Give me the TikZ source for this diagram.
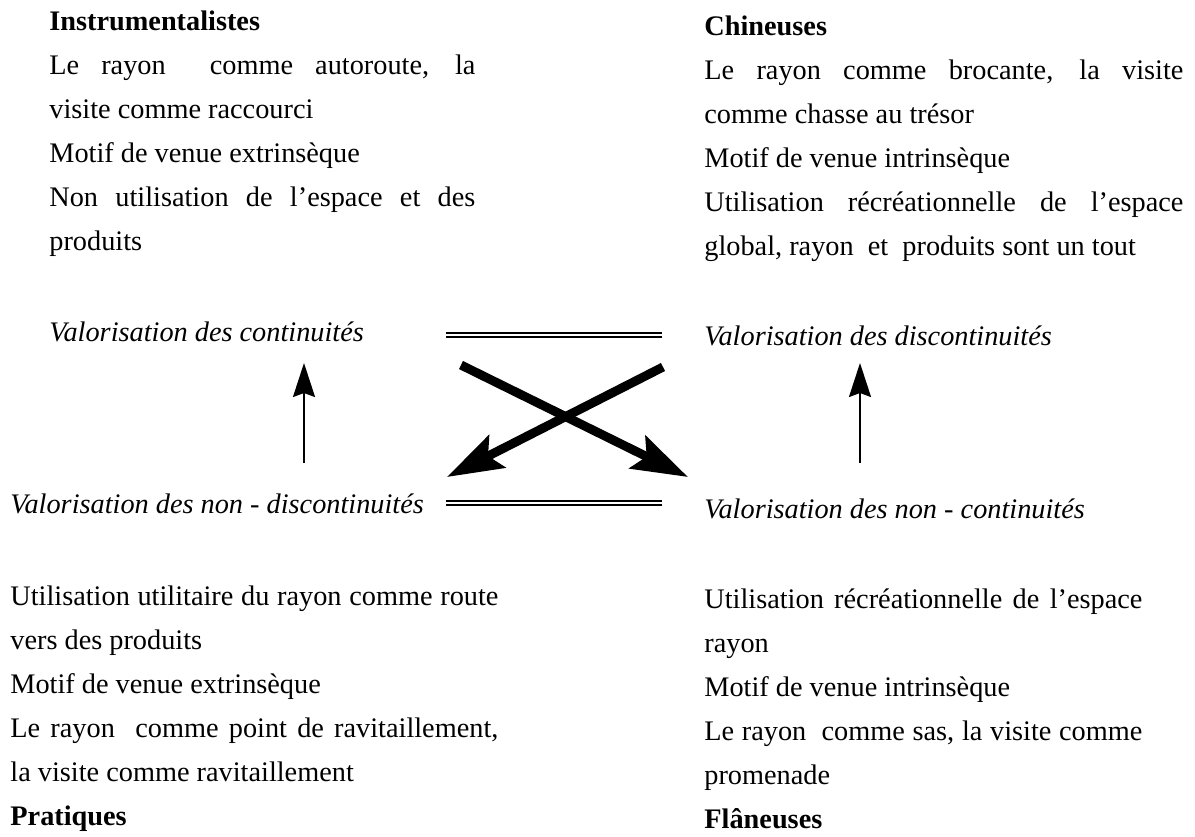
\documentclass[tikz,border=0pt]{standalone}
\usepackage{fontspec}
\setmainfont{Liberation Serif}
\usetikzlibrary{arrows.meta}
\newcommand{\justline}[2]{\makebox[#1][s]{#2}}

\begin{document}
\begin{tikzpicture}[x=0.5pt,y=-0.5pt,
  font=\fontsize{14.15pt}{22pt}\selectfont,
  textblock/.style={anchor=base west,inner sep=0pt,align=left},
  valuelabel/.style={anchor=base west,inner sep=0pt,
    font=\fontsize{14.15pt}{22pt}\selectfont\itshape},
  doubleline/.style={double,double distance=1pt,line width=1pt},
  bigarrow/.style={line width=4.5pt,-{Stealth[length=28pt,width=18pt,inset=5pt]}},
  smallarrow/.style={line width=1pt,-{Stealth[length=17pt,width=11pt,inset=2pt]}}]
  \useasboundingbox (0,0) rectangle (1195,836);

  % Instrumentalistes (top left), placed by its last line
  \node[textblock] (instru) at (49,250) {\textbf{Instrumentalistes}\\
    \justline{213pt}{Le rayon\ \ comme autoroute, la}\\
    visite comme raccourci\\
    Motif de venue extrinsèque\\
    \justline{213pt}{Non utilisation de l’espace et des}\\
    produits};

  % Chineuses (top right)
  \node[textblock] (chin) at (704,255) {\textbf{Chineuses}\\
    \justline{239.5pt}{Le rayon comme brocante, la visite}\\
    comme chasse au trésor\\
    Motif de venue intrinsèque\\
    \justline{239.5pt}{Utilisation récréationnelle de l’espace}\\
    global, rayon\ \ et\ \ produits sont un tout};

  % Pratiques (bottom left)
  \node[textblock] (prat) at (10,825) {\justline{244pt}{Utilisation utilitaire du rayon comme route}\\
    vers des produits\\
    Motif de venue extrinsèque\\
    \justline{244pt}{Le rayon\ \ comme point de ravitaillement,}\\
    la visite comme ravitaillement\\
    \textbf{Pratiques}};

  % Flaneuses (bottom right)
  \node[textblock] (flan) at (704,828) {\justline{219pt}{Utilisation récréationnelle de l’espace}\\
    rayon\\
    Motif de venue intrinsèque\\
    \justline{219pt}{Le rayon\ \ comme sas, la visite comme}\\
    promenade\\
    \textbf{Flâneuses}};

  % the four valorisations
  \node[valuelabel] (cont) at (49,341) {Valorisation des continuités};
  \node[valuelabel] (disc) at (704,345) {Valorisation des discontinuités};
  \node[valuelabel] (nondisc) at (10,513) {Valorisation des non - discontinuités};
  \node[valuelabel] (noncont) at (704,518) {Valorisation des non - continuités};

  % double lines between the labels
  \coordinate (topL) at (446,335);
  \coordinate (topR) at (662,335);
  \coordinate (botL) at (446,503);
  \coordinate (botR) at (662,503);
  \draw[doubleline] (topL) -- (topR);
  \draw[doubleline] (botL) -- (botR);

  % crossing arrows
  \coordinate (crossA) at (461,365);
  \coordinate (crossB) at (663,367);
  \coordinate (tipA) at (688,477);
  \coordinate (tipB) at (447,477);
  \draw[bigarrow] (crossA) -- (tipA);
  \draw[bigarrow] (crossB) -- (tipB);

  % vertical arrows
  \coordinate (upL) at (304,463);
  \coordinate (upLtip) at (304,363);
  \coordinate (upR) at (860,463);
  \coordinate (upRtip) at (860,363);
  \draw[smallarrow] (upL) -- (upLtip);
  \draw[smallarrow] (upR) -- (upRtip);
\end{tikzpicture}
\end{document}
